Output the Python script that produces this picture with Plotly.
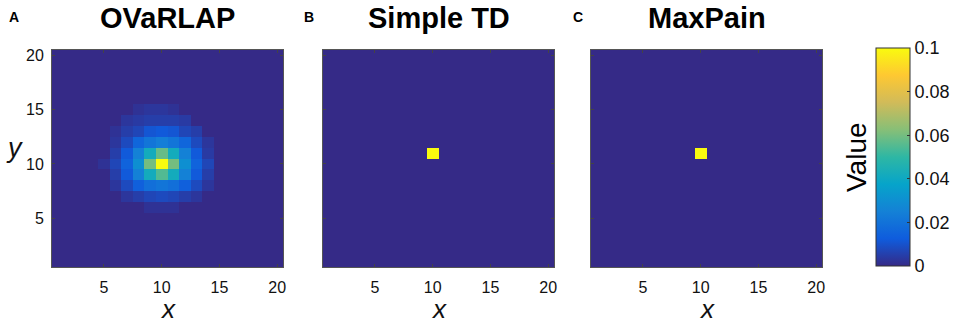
import plotly.graph_objects as go

# ---------------- data ----------------
x_vals = list(range(1, 21))
y_vals = list(range(1, 21))
tick_vals = [5, 10, 15, 20]
cbar_vals = [0, 0.02, 0.04, 0.06, 0.08, 0.1]
cbar_text = ["0", "0.02", "0.04", "0.06", "0.08", "0.1"]
panel_titles = ["OVaRLAP", "Simple TD", "MaxPain"]
panel_letters = ["A", "B", "C"]

# OVaRLAP value map, rows are y = 1..20, columns x = 1..20
ovarlap_rows = {
    6:  {9: 0.002, 10: 0.002, 11: 0.002},
    7:  {7: 0.003, 8: 0.005, 9: 0.007, 10: 0.008, 11: 0.007, 12: 0.005, 13: 0.003},
    8:  {6: 0.003, 7: 0.008, 8: 0.014, 9: 0.019, 10: 0.021, 11: 0.019, 12: 0.014, 13: 0.008, 14: 0.003},
    9:  {6: 0.005, 7: 0.012, 8: 0.025, 9: 0.042, 10: 0.055, 11: 0.042, 12: 0.025, 13: 0.012, 14: 0.005},
    10: {5: 0.002, 6: 0.007, 7: 0.015, 8: 0.030, 9: 0.060, 10: 0.100, 11: 0.060, 12: 0.030, 13: 0.015, 14: 0.007},
    11: {6: 0.005, 7: 0.012, 8: 0.025, 9: 0.042, 10: 0.058, 11: 0.042, 12: 0.025, 13: 0.012, 14: 0.004},
    12: {6: 0.003, 7: 0.008, 8: 0.016, 9: 0.021, 10: 0.024, 11: 0.021, 12: 0.016, 13: 0.008, 14: 0.003},
    13: {6: 0.002, 7: 0.005, 8: 0.007, 9: 0.011, 10: 0.012, 11: 0.011, 12: 0.007, 13: 0.005},
    14: {7: 0.003, 8: 0.004, 9: 0.005, 10: 0.005, 11: 0.005, 12: 0.004},
    15: {8: 0.002, 9: 0.003, 10: 0.003, 11: 0.002},
}
ovarlap = [[ovarlap_rows.get(y, {}).get(x, 0.0) for x in x_vals] for y in y_vals]

# Simple TD and MaxPain: single cell at (10, 11)
simple_td = [[0.1 if (x == 10 and y == 11) else 0.0 for x in x_vals] for y in y_vals]
maxpain = [[0.1 if (x == 10 and y == 11) else 0.0 for x in x_vals] for y in y_vals]

# ---------------- style ----------------
W, H = 957, 323
parula = [
    [0.0, "#352a87"], [0.125, "#0f5cdd"], [0.25, "#1481d6"], [0.375, "#06a4ca"],
    [0.5, "#2eb7a4"], [0.625, "#87bf77"], [0.75, "#d1bb59"], [0.875, "#fec832"],
    [1.0, "#f9fb0e"],
]
FONT = "Liberation Sans, Arial, sans-serif"

def px_x(p):
    return p / W

def px_y(p):
    return 1 - p / H

panels_px = [(52, 283), (323, 554), (591, 822)]
top_px, bot_px = 50, 267

fig = go.Figure()
datasets = [ovarlap, simple_td, maxpain]
for i, z in enumerate(datasets):
    ax = "" if i == 0 else str(i + 1)
    fig.add_trace(go.Heatmap(
        x=x_vals, y=y_vals, z=z, coloraxis="coloraxis",
        xaxis="x" + ax, yaxis="y" + ax, hoverinfo="skip",
    ))

axis_common = dict(
    range=[0.5, 20.5], tickvals=tick_vals, ticks="inside", ticklen=3,
    tickcolor="#444", showline=True, linecolor="#555", linewidth=1,
    mirror="ticks", showgrid=False, zeroline=False, automargin=False,
    tickfont=dict(family=FONT, size=16, color="#111"),
)

layout = dict(
    width=W, height=H, margin=dict(l=0, r=0, t=0, b=0, autoexpand=False),
    paper_bgcolor="white", plot_bgcolor="white", showlegend=False,
    coloraxis=dict(
        colorscale=parula, cmin=0, cmax=0.1,
        colorbar=dict(
            x=px_x(876), xanchor="left", xpad=0, ypad=0,
            y=px_y(157), yanchor="middle",
            len=(266 - 48) / H, lenmode="fraction",
            thickness=34, thicknessmode="pixels",
            outlinewidth=1, outlinecolor="#333",
            tickvals=cbar_vals, ticktext=cbar_text,
            ticks="inside", ticklen=3, tickcolor="#333",
            tickfont=dict(family=FONT, size=18, color="#111"),
        ),
    ),
)

for i, (l, r) in enumerate(panels_px):
    ax = "" if i == 0 else str(i + 1)
    xa = dict(axis_common)
    xa.update(domain=[px_x(l), px_x(r)], anchor="y" + ax, ticklabelstandoff=6)
    ya = dict(axis_common)
    ya.update(domain=[px_y(bot_px), px_y(top_px)], anchor="x" + ax, ticklabelstandoff=4)
    if i != 0:
        ya.update(showticklabels=False)
    layout["xaxis" + ax] = xa
    layout["yaxis" + ax] = ya

annotations = []
letter_x = [14, 309, 578]
for i, (l, r) in enumerate(panels_px):
    annotations.append(dict(
        text="<b>" + panel_titles[i] + "</b>", x=px_x((l + r) / 2), y=px_y(18),
        xref="paper", yref="paper", showarrow=False, xanchor="center", yanchor="middle",
        font=dict(family=FONT, size=29, color="#000"),
    ))
    annotations.append(dict(
        text="<b>" + panel_letters[i] + "</b>", x=px_x(letter_x[i]), y=px_y(17),
        xref="paper", yref="paper", showarrow=False, xanchor="center", yanchor="middle",
        font=dict(family=FONT, size=14, color="#000"),
    ))
    # x axis label
    annotations.append(dict(
        text="<i>x</i>", x=px_x((l + r) / 2), y=px_y(309),
        xref="paper", yref="paper", showarrow=False, xanchor="center", yanchor="middle",
        font=dict(family=FONT, size=26, color="#111"),
    ))
# y axis label of panel A (upright, as in the original)
annotations.append(dict(
    text="<i>y</i>", x=px_x(14), y=px_y(148), xref="paper", yref="paper",
    showarrow=False, xanchor="center", yanchor="middle",
    font=dict(family=FONT, size=27, color="#111"),
))
annotations.append(dict(
    text="Value", x=px_x(856), y=px_y(157), xref="paper", yref="paper",
    showarrow=False, textangle=-90, xanchor="center", yanchor="middle",
    font=dict(family=FONT, size=28, color="#000"),
))
layout["annotations"] = annotations

fig.update_layout(**layout)
fig.write_html(
    "out.html",
    config={"displayModeBar": False},
    post_script="document.body.style.margin='0';document.body.style.overflow='hidden';",
)
